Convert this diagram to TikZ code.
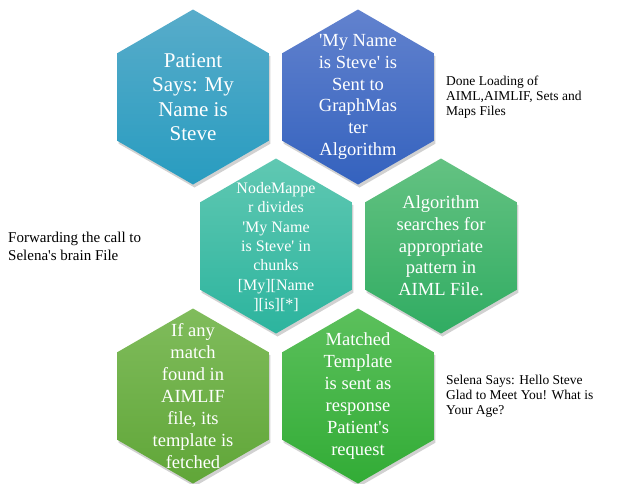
\documentclass[tikz,border=0pt]{standalone}
\usepackage{fontspec}
\setmainfont{Liberation Serif}
\usetikzlibrary{shapes.geometric,shadows}
\definecolor{aT}{RGB}{88,172,202}\definecolor{aB}{RGB}{40,156,192}
\definecolor{bT}{RGB}{98,130,206}\definecolor{bB}{RGB}{52,98,190}
\definecolor{cT}{RGB}{96,200,178}\definecolor{cB}{RGB}{44,180,158}
\definecolor{dT}{RGB}{100,194,130}\definecolor{dB}{RGB}{48,172,98}
\definecolor{eT}{RGB}{128,188,92}\definecolor{eB}{RGB}{96,166,56}
\definecolor{fT}{RGB}{92,192,92}\definecolor{fB}{RGB}{50,172,54}
\newcommand{\sq}{\textquotesingle}
\tikzset{
  hexa/.style={regular polygon, regular polygon sides=6, shape border rotate=30,
    minimum size=175pt, inner sep=0pt, draw=none,
    drop shadow={shadow xshift=1.5pt, shadow yshift=-3pt, opacity=0.3, fill=black!60}},
  hext/.style={text=white, align=center, inner sep=0pt},
  side/.style={align=left, anchor=west, inner sep=0pt, font=\fontsize{13.5}{15}\selectfont}
}
\begin{document}
\begin{tikzpicture}[x=1pt,y=1pt]
\useasboundingbox (0,0) rectangle (620,-483);
\node[hexa, top color=aT, bottom color=aB] (h1) at (193,-97) {};
\node[hexa, top color=bT, bottom color=bB] (h2) at (358,-97) {};
\node[hexa, top color=cT, bottom color=cB] (h3) at (276,-246) {};
\node[hexa, top color=dT, bottom color=dB] (h4) at (441,-246) {};
\node[hexa, top color=eT, bottom color=eB] (h5) at (193,-396) {};
\node[hexa, top color=fT, bottom color=fB] (h6) at (358,-396) {};
\node[hext, font=\fontsize{21}{24.5}\selectfont] (t1) at (h1) {Patient\\Says: My\\Name is\\Steve};
\node[hext, font=\fontsize{18.5}{21.7}\selectfont] (t2) at (h2) {\sq My Name\\is Steve\sq{} is\\Sent to\\GraphMas\\ter\\Algorithm};
\node[hext, font=\fontsize{16}{19.3}\selectfont] (t3) at ([yshift=-1pt]h3) {NodeMappe\\r divides\\\sq My Name\\is Steve\sq{} in\\chunks\\{[My][Name}\\{][is][*]}};
\node[hext, font=\fontsize{18.5}{21.7}\selectfont] (t4) at (h4) {Algorithm\\searches for\\appropriate\\pattern in\\AIML File.};
\node[hext, font=\fontsize{18.5}{22}\selectfont] (t5) at (h5) {If any\\match\\found in\\AIMLIF\\file, its\\template is\\fetched};
\node[hext, font=\fontsize{18.5}{22}\selectfont] (t6) at (h6) {Matched\\Template\\is sent as\\response\\Patient\sq s\\request};
\node[side] (s1) at (446,-97) {Done Loading of\\AIML,AIMLIF, Sets and\\Maps Files};
\node[side, font=\fontsize{15}{18}\selectfont] (s2) at (8,-246) {Forwarding the call to\\Selena\sq s brain File};
\node[side] (s3) at (446,-396) {Selena Says: Hello Steve\\Glad to Meet You! What is\\Your Age?};
\end{tikzpicture}
\end{document}
